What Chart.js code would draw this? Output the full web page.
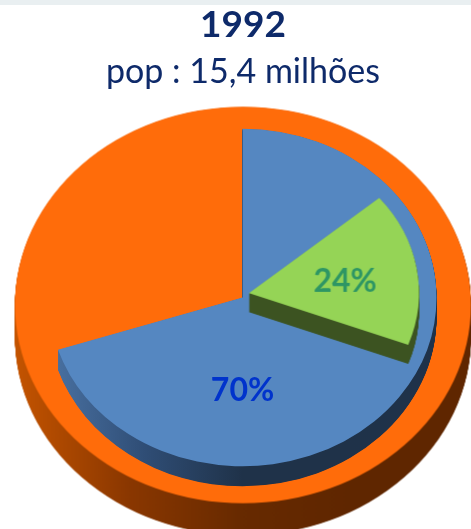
<!DOCTYPE html>
<html>
<head>
<meta charset="utf-8">
<script src="https://cdn.jsdelivr.net/npm/chart.js@4/dist/chart.umd.min.js"></script>
<style>
html,body{margin:0;padding:0;background:#fff;width:471px;height:529px;overflow:hidden;font-family:Lato,"Open Sans",sans-serif}
#wrap{position:relative;width:471px;height:529px;overflow:hidden}
#band{position:absolute;left:0;top:0;width:471px;height:5px;background:#e9eff1}
canvas{position:absolute;left:0;top:0}
.t{position:absolute;left:0;width:486px;text-align:center;color:#0e2a6a;white-space:nowrap}
#t1{top:4px;font-size:37px;line-height:37px;font-weight:700}
#t2{top:53px;font-size:34px;line-height:34px;font-weight:400}
</style>
</head>
<body>
<div id="wrap">
  <div id="band"></div>
  <canvas id="cOrange" width="471" height="529"></canvas>
  <canvas id="cBlue" width="471" height="529"></canvas>
  <canvas id="cGreen" width="471" height="529"></canvas>
  <div class="t" id="t1">1992</div>
  <div class="t" id="t2">pop : 15,4 milhões</div>
</div>
<script>
// ---- data ----
const titleText = '1992';
const subtitleText = 'pop : 15,4 milhões';
const outerValues = [100];          // whole population (orange)
const blueValues = [70, 30];        // 70% share and remainder
const greenValues = [24, 76];       // 24% of the 70% share
const blueLabel = '70%';
const greenLabel = '24%';

const SQUASH = 0.87;

function sectorPath(ctx, arc, dy) {
  const span = arc.endAngle - arc.startAngle;
  ctx.beginPath();
  if (span >= 2 * Math.PI - 1e-6) {
    ctx.arc(arc.x, arc.y + dy, arc.outerRadius, 0, 2 * Math.PI);
  } else {
    ctx.moveTo(arc.x, arc.y + dy);
    ctx.arc(arc.x, arc.y + dy, arc.outerRadius, arc.startAngle, arc.endAngle);
    ctx.closePath();
  }
}

const tilt = {
  id: 'tilt',
  beforeDatasetsDraw(chart, args, o) {
    const ctx = chart.ctx, arcs = chart.getDatasetMeta(0).data;
    const cx = arcs[0].x, cy = arcs[0].y;
    ctx.save();
    ctx.translate(cx, cy); ctx.scale(1, o.squash); ctx.translate(-cx, -cy);
    arcs.forEach((arc, i) => {
      const side = o.sides[i];
      if (!side) return;
      const R = arc.outerRadius;
      const g = ctx.createLinearGradient(cx - R, 0, cx + R, 0);
      side.forEach((c, k) => g.addColorStop(side.length === 1 ? 0 : k / (side.length - 1), c));
      ctx.fillStyle = g;
      for (let d = o.depth; d > 0; d -= 0.5) {
        sectorPath(ctx, arc, d / o.squash);
        ctx.fill();
      }
    });
  },
  afterDatasetsDraw(chart) { chart.ctx.restore(); },
  afterDraw(chart, args, o) {
    if (!o.label) return;
    const ctx = chart.ctx, a = chart.getDatasetMeta(0).data[0];
    const L = o.label, ang = L.angle * Math.PI / 180, r = a.outerRadius * L.r;
    const x = a.x + r * Math.sin(ang), y = a.y - r * Math.cos(ang) * o.squash;
    ctx.save();
    ctx.font = L.font; ctx.fillStyle = L.color;
    ctx.textAlign = 'center'; ctx.textBaseline = 'middle';
    ctx.fillText(L.text, x, y);
    ctx.restore();
  }
};

function makePie(id, values, colors, opts) {
  const chart = new Chart(document.getElementById(id), {
    type: 'pie',
    data: { labels: values.map((v, i) => String(i)), datasets: [{
      data: values, backgroundColor: colors, borderWidth: 0, clip: false
    }]},
    options: {
      responsive: false, animation: false, events: [],
      radius: opts.radius,
      rotation: opts.rotation || 0,
      circumference: opts.circumference || 360,
      plugins: {
        legend: { display: false }, tooltip: { enabled: false },
        tilt: { squash: SQUASH, depth: opts.depth, sides: opts.sides, label: opts.label }
      }
    },
    plugins: [tilt]
  });
  const a = chart.getDatasetMeta(0).data[0];
  const dx = opts.center[0] - a.x, dy = opts.center[1] - a.y;
  chart.canvas.style.transform = 'translate(' + dx + 'px,' + dy + 'px)';
  return chart;
}

makePie('cOrange', outerValues, ['#ff6c0a'], {
  radius: 228, depth: 32, center: [243, 305],
  sides: [['#c45400', '#8a3700', '#672a00', '#5f2600', '#5f2600']]
});

makePie('cBlue', blueValues, ['#5587c1', 'rgba(0,0,0,0)'], {
  radius: 194, depth: 20, center: [242.5, 297.5],
  sides: [['#4a72a3', '#2f4d75', '#1f3249', '#1f3249', '#1f324a'], null],
  label: { text: blueLabel, angle: 180, r: 0.554, color: '#0033cc', font: 'bold 32px Lato, sans-serif' }
});

makePie('cGreen', greenValues, ['#95d456', 'rgba(0,0,0,0)'], {
  radius: 170, depth: 19, center: [249, 293], rotation: 50,
  circumference: 360 * blueValues[0] / (blueValues[0] + blueValues[1]),
  sides: [['#3c5321'], null],
  label: { text: greenLabel, angle: 82.5, r: 0.57, color: '#2e9664', font: 'bold 32px Lato, sans-serif' }
});
</script>
</body>
</html>
